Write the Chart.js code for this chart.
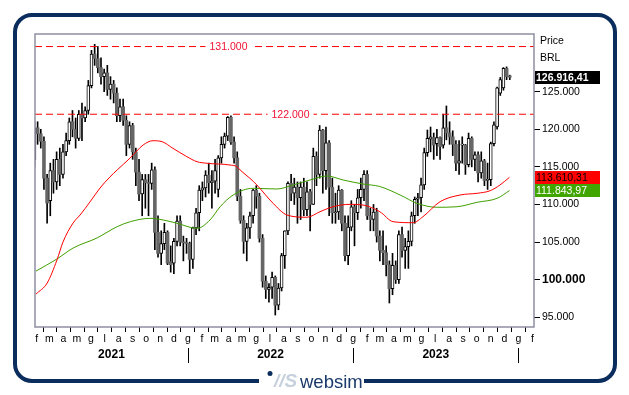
<!DOCTYPE html>
<html><head><meta charset="utf-8">
<script src="https://cdn.jsdelivr.net/npm/chart.js@4/dist/chart.umd.min.js"></script>
<style>html,body{margin:0;padding:0;background:#fff;}canvas{display:block;}</style>
</head><body>
<canvas id="c" width="629" height="395"></canvas>
<script>
// ---- DATA (prices in thousands of BRL, weekly candles, first week ending 2021-01-29) ----
const open  = [116.0,120.2,119.4,118.4,113.5,110.5,114.5,113.0,116.0,114.0,117.0,118.5,121.0,120.0,118.8,122.0,121.5,122.5,125.8,130.0,129.4,128.2,127.0,127.5,125.3,126.0,124.8,121.8,123.0,121.2,118.0,120.5,117.0,114.3,111.4,113.3,112.9,112.8,114.6,106.3,103.5,104.8,106.3,102.4,102.2,105.1,107.8,105.0,104.9,104.8,102.7,106.9,108.9,111.9,112.2,113.9,112.9,113.1,112.0,116.2,118.0,119.1,121.6,118.3,116.2,111.1,107.9,105.1,106.9,108.5,111.9,111.1,105.5,99.8,98.7,99.0,100.3,96.6,98.9,103.2,106.5,112.8,111.5,112.3,110.9,112.3,109.3,111.7,110.0,116.4,114.0,119.9,114.5,118.2,112.3,108.9,109.0,111.9,107.5,103.2,107.0,109.7,108.9,110.9,112.0,114.0,108.5,108.0,109.0,105.8,103.9,103.6,102.0,98.8,101.9,100.0,106.0,103.9,104.4,105.1,108.5,110.7,110.9,112.6,116.9,118.7,118.9,118.1,118.9,117.9,120.2,119.5,119.0,118.0,115.5,117.9,117.9,115.3,118.8,116.0,116.6,114.2,115.8,113.2,113.3,118.1,120.3,124.8,125.5,128.1,127.1];
const high  = [121.0,121.0,120.0,119.0,114.0,115.5,116.0,117.0,117.5,118.0,119.5,121.5,122.5,121.5,122.5,123.5,123.0,126.5,130.5,131.3,131.0,129.5,128.0,128.5,127.0,126.5,125.5,124.0,124.0,121.8,121.0,120.8,117.5,116.0,114.0,114.0,114.0,115.5,115.0,108.5,106.5,107.5,106.5,104.5,105.5,108.5,108.5,105.8,105.5,105.0,107.0,109.5,112.5,113.0,114.5,115.5,114.5,116.0,116.5,119.0,119.5,121.7,121.8,119.0,117.0,112.0,108.5,107.5,109.0,112.0,112.5,111.5,106.0,100.5,99.5,101.0,100.5,99.5,103.5,106.5,113.0,114.0,113.5,113.0,113.0,113.5,113.0,112.0,117.5,117.0,120.5,120.0,120.3,118.5,113.5,111.5,112.5,112.0,108.5,108.5,110.5,110.0,112.0,113.5,114.5,114.5,109.5,110.0,109.5,106.5,106.5,104.5,102.5,103.5,102.5,106.5,107.0,105.5,106.5,109.0,111.0,111.5,113.5,117.5,119.9,120.3,119.5,120.0,119.0,122.0,123.1,121.0,119.8,118.5,118.5,119.0,118.0,119.5,119.0,117.0,117.0,117.0,116.0,115.5,118.3,121.0,125.6,126.9,128.2,128.3,127.2];
const low   = [115.0,118.0,117.5,112.0,107.5,108.5,111.5,112.0,112.5,113.5,116.5,118.0,119.0,117.5,118.5,118.5,121.0,122.0,125.5,128.5,127.5,126.0,125.0,124.5,124.0,123.5,121.0,121.0,120.5,116.5,117.5,116.0,112.5,110.5,108.5,109.5,108.5,112.0,104.0,103.0,102.0,104.0,102.0,101.0,100.8,104.5,104.5,102.5,103.5,100.8,101.5,106.0,106.5,110.5,111.0,111.5,109.5,111.5,111.0,115.5,117.5,118.5,118.0,115.5,110.5,107.5,103.5,102.5,105.5,107.5,109.5,105.0,99.0,97.5,97.0,97.5,95.3,96.0,98.5,101.5,106.0,110.5,110.0,107.5,108.0,108.5,108.5,106.5,110.0,112.5,113.5,111.5,112.0,108.5,107.5,107.5,108.0,106.5,102.5,102.0,106.5,104.5,108.0,109.5,110.5,108.0,106.5,106.5,105.0,102.5,102.0,100.5,96.9,98.0,99.5,99.5,103.0,101.5,101.5,104.5,107.5,108.5,109.0,112.0,116.4,117.0,116.0,116.5,116.0,117.5,118.6,118.0,116.5,114.5,114.0,115.5,114.0,115.0,115.0,114.5,113.0,113.5,112.5,112.0,112.5,117.8,120.0,124.5,125.2,126.6,126.6];
const close = [120.2,119.4,118.4,113.5,110.2,114.5,113.0,116.0,114.0,117.0,118.5,121.0,120.0,118.8,122.0,121.5,122.5,125.8,130.0,129.4,128.2,127.0,127.5,125.3,126.0,124.8,121.8,123.0,121.2,118.0,120.5,117.0,114.3,111.4,113.3,112.9,112.8,114.6,106.3,103.5,104.8,106.3,102.2,102.0,105.1,107.8,105.0,104.9,104.8,102.7,106.9,108.9,111.9,112.2,113.9,112.9,113.1,114.5,116.2,118.0,119.1,121.6,118.3,116.2,111.1,107.9,105.1,106.9,108.5,111.9,111.1,105.5,99.8,98.7,99.0,100.3,96.6,98.9,103.2,106.5,112.8,111.5,112.3,110.9,112.3,109.3,111.7,110.0,116.4,114.0,119.9,114.5,118.2,112.3,108.9,109.0,111.9,107.5,103.2,107.0,109.7,108.9,110.9,112.0,114.0,108.5,108.0,109.0,105.8,103.9,103.6,102.0,98.8,101.9,100.0,106.0,103.9,104.4,105.1,108.5,110.7,110.9,112.6,116.9,118.8,119.0,117.9,118.9,117.7,120.2,119.5,119.0,118.0,115.5,115.8,117.9,115.3,118.8,116.0,116.6,114.2,115.8,113.2,113.3,118.1,120.6,125.5,126.6,128.1,127.0,126.92];

// moving averages (position in weeks, value in thousands)
const redMaWeek   = [0.5,4.0,7.1,9.0,12.2,14.4,17.5,20.7,23.8,26.1,30.2,34.3,37.4,40.3,43.7,48.1,51.3,54.5,61.7,63.9,64.9,68.0,70.2,75.3,79.7,86.0,90.1,94.2,99.6,103.7,109.0,113.2,119.5,122.6,128.0,134.3,139.7,143.8,146.9,149.9];
const redMa       = [98.09,99.55,102.61,105.0,107.54,108.6,110.33,112.19,113.65,114.59,116.18,117.91,118.48,118.35,117.47,116.36,115.69,115.48,115.25,115.03,114.59,113.48,112.59,110.16,108.6,108.3,109.04,109.7,110.02,109.93,109.04,107.71,107.58,108.38,110.37,111.26,111.49,111.83,112.59,113.61];
const greenMaWeek = [0.5,7.1,12.2,19.7,26.1,30.2,36.5,40.6,45.0,51.3,55.4,58.6,62.7,69.0,76.5,81.6,87.0,92.3,97.4,103.7,109.0,115.4,120.7,127.0,133.3,139.7,146.0,149.9];
const greenMa     = [101.15,102.75,104.21,105.54,107.05,107.71,108.16,107.94,107.5,106.83,107.94,109.7,111.26,112.15,112.06,112.59,113.26,113.79,113.26,112.72,112.39,111.26,110.16,109.63,109.7,110.29,110.82,111.84];

const levels = [131, 122];
const priceTicks = [95, 100, 105, 110, 115, 120, 125];
const monthLetters = ['g','f','m','a','m','g','l','a','s','o','n','d'];
const years = [2021, 2022, 2023, 2024];
const lastValues = [126916.41, 113610.31, 111843.97];

// ---- helpers ----
const DAY0 = Date.UTC(2021, 1, 1);
const dayOf = (y, m, d) => (Date.UTC(y, m, d) - DAY0) / 864e5;
const weekX = w => 7 * w - 5;
const X_MIN = -3.76, X_MAX = 1098.5;
const fmtInt = n => String(n).replace(/\B(?=(\d{3})+(?!\d))/g, '.');
const fmtDec = v => { const p = v.toFixed(2).split('.'); return fmtInt(p[0]) + ',' + p[1]; };
const FONT = "'Liberation Sans', Arial, sans-serif";

const monthTicks = [];
years.forEach(y => { for (let m = 0; m < 12; m++) { const d = dayOf(y, m, 1); if (d >= X_MIN && d <= X_MAX) monthTicks.push({ value: d, label: monthLetters[m] }); } });

const isUp = open.map((o, i) => close[i] >= o);
const wickData = high.map((h, i) => ({ x: weekX(i), y: [low[i], h] }));
const bodyData = open.map((o, i) => ({ x: weekX(i), y: [Math.min(o, close[i]), Math.max(o, close[i])] }));

const decor = {
  id: 'decor',
  beforeDraw(chart) { const c = chart.ctx; c.save(); c.fillStyle = '#fff'; c.fillRect(0, 0, chart.width, chart.height); c.restore(); },
  afterDraw(chart) {
    const c = chart.ctx, a = chart.chartArea, xs = chart.scales.x, ys = chart.scales.y;
    c.save();
    c.strokeStyle = '#8e8ea2'; c.lineWidth = 1.5;
    c.strokeRect(a.left, a.top, a.right - a.left, a.bottom - a.top);
    const labelX = [228.5, 290.5];
    c.font = '10.5px ' + FONT; c.textAlign = 'center'; c.textBaseline = 'middle';
    levels.forEach((lv, k) => {
      const y = ys.getPixelForValue(lv), t = fmtInt(lv * 1000), w = c.measureText(t).width;
      c.fillStyle = '#fff'; c.fillRect(labelX[k] - w / 2 - 4, y - 3, w + 8, 6);
      c.fillStyle = '#f01030'; c.fillText(t, labelX[k], y + 0.5);
    });
    c.fillStyle = '#000'; c.strokeStyle = '#000'; c.lineWidth = 1;
    c.font = 'bold 12px ' + FONT; c.textBaseline = 'alphabetic';
    years.forEach(y => {
      const s = Math.max(a.left, xs.getPixelForValue(dayOf(y, 0, 1)));
      const e = Math.min(a.right, xs.getPixelForValue(dayOf(y + 1, 0, 1)));
      const sx = xs.getPixelForValue(dayOf(y, 0, 1));
      if (sx > a.left && sx < a.right) { c.beginPath(); c.moveTo(Math.round(sx) + 0.5, 348); c.lineTo(Math.round(sx) + 0.5, 363); c.stroke(); }
      if (e - s > 60) c.fillText(String(y), (s + e) / 2, 358);
    });
    c.font = '10.5px ' + FONT; c.textAlign = 'left'; c.textBaseline = 'middle';
    c.fillText('Price', 540, 41); c.fillText('BRL', 540, 58);
    const boxes = [
      { v: lastValues[0], bg: '#000', fg: '#fff', bold: true },
      { v: lastValues[1], bg: '#ff0000', fg: '#000', bold: false },
      { v: lastValues[2], bg: '#41a500', fg: '#fff', bold: false }
    ];
    boxes.forEach(b => {
      const y = ys.getPixelForValue(b.v / 1000);
      c.fillStyle = b.bg; c.fillRect(535, Math.round(y - 6.5), 65, 13);
      c.fillStyle = b.fg; c.font = (b.bold ? 'bold ' : '') + '10.5px ' + FONT;
      c.fillText(fmtDec(b.v), 536, Math.round(y - 6.5) + 7);
    });
    c.strokeStyle = '#0b2d5e'; c.lineWidth = 4;
    c.beginPath(); c.roundRect(15, 15, 600, 366, 17); c.stroke();
    c.fillStyle = '#fff'; c.fillRect(259, 376, 105, 10);
    c.fillStyle = '#0b2d5e'; c.beginPath(); c.arc(270, 373.5, 2.5, 0, Math.PI * 2); c.fill();
    c.fillStyle = '#c7d1dd'; c.font = 'italic bold 19px ' + FONT; c.textBaseline = 'alphabetic';
    c.fillText('//S', 274, 387);
    c.fillStyle = '#1b3a6b'; c.font = '18.5px ' + FONT;
    c.fillText('websim', 300, 388);
    c.restore();
  }
};

new Chart(document.getElementById('c'), {
  type: 'bar',
  data: {
    datasets: [
      { type: 'line', data: redMaWeek.map((w, k) => ({ x: weekX(w), y: redMa[k] })), borderColor: '#ff0000', borderWidth: 1, pointRadius: 0, cubicInterpolationMode: 'monotone', order: 0 },
      { type: 'line', data: greenMaWeek.map((w, k) => ({ x: weekX(w), y: greenMa[k] })), borderColor: '#3f9f00', borderWidth: 1, pointRadius: 0, cubicInterpolationMode: 'monotone', order: 0 },
      { type: 'line', data: [{ x: X_MIN, y: levels[0] }, { x: X_MAX, y: levels[0] }], borderColor: '#ff0000', borderWidth: 1, borderDash: [7, 4], pointRadius: 0, order: 1 },
      { type: 'line', data: [{ x: X_MIN, y: levels[1] }, { x: X_MAX, y: levels[1] }], borderColor: '#ff0000', borderWidth: 1, borderDash: [7, 4], pointRadius: 0, order: 1 },
      { type: 'bar', data: bodyData, grouped: false, barThickness: 3, minBarLength: 1, borderSkipped: false,
        backgroundColor: isUp.map(u => u ? '#ffffff' : '#666666'), borderColor: isUp.map(u => u ? '#000000' : '#666666'), borderWidth: isUp.map(u => u ? 1 : 0), order: 2 },
      { type: 'bar', data: wickData, grouped: false, barThickness: 1, backgroundColor: '#000', borderWidth: 0, order: 3 }
    ]
  },
  options: {
    responsive: false, animation: false, devicePixelRatio: 1,
    layout: { padding: { left: 35, top: 34, right: 0, bottom: 0 } },
    plugins: { legend: { display: false }, tooltip: { enabled: false } },
    scales: {
      x: {
        type: 'linear', min: X_MIN, max: X_MAX, offset: false,
        grid: { drawOnChartArea: false, drawTicks: true, tickLength: 5, tickColor: '#000' },
        border: { display: false },
        ticks: { autoSkip: false, maxRotation: 0, minRotation: 0, padding: 1, color: '#000', font: { family: FONT, size: 10.5 },
          callback: (v, i) => monthTicks[i] ? monthTicks[i].label : '' },
        afterBuildTicks: s => { s.ticks = monthTicks.map(t => ({ value: t.value })); },
        afterFit: s => { s.height = 68; }
      },
      y: {
        type: 'linear', position: 'right', min: 93.71, max: 132.67,
        grid: { drawOnChartArea: false, drawTicks: true, tickLength: 6, tickColor: '#000' },
        border: { display: false },
        ticks: { padding: 2, color: '#000',
          font: ctx => (ctx.tick && ctx.tick.value === 100) ? { family: FONT, size: 12, weight: 'bold' } : { family: FONT, size: 10.5 },
          callback: v => fmtInt(Math.round(v * 1000)) },
        afterBuildTicks: s => { s.ticks = priceTicks.map(v => ({ value: v })); },
        afterFit: s => { s.height = s.height; s.width = 95; }
      }
    }
  },
  plugins: [decor]
});
</script>
</body></html>
